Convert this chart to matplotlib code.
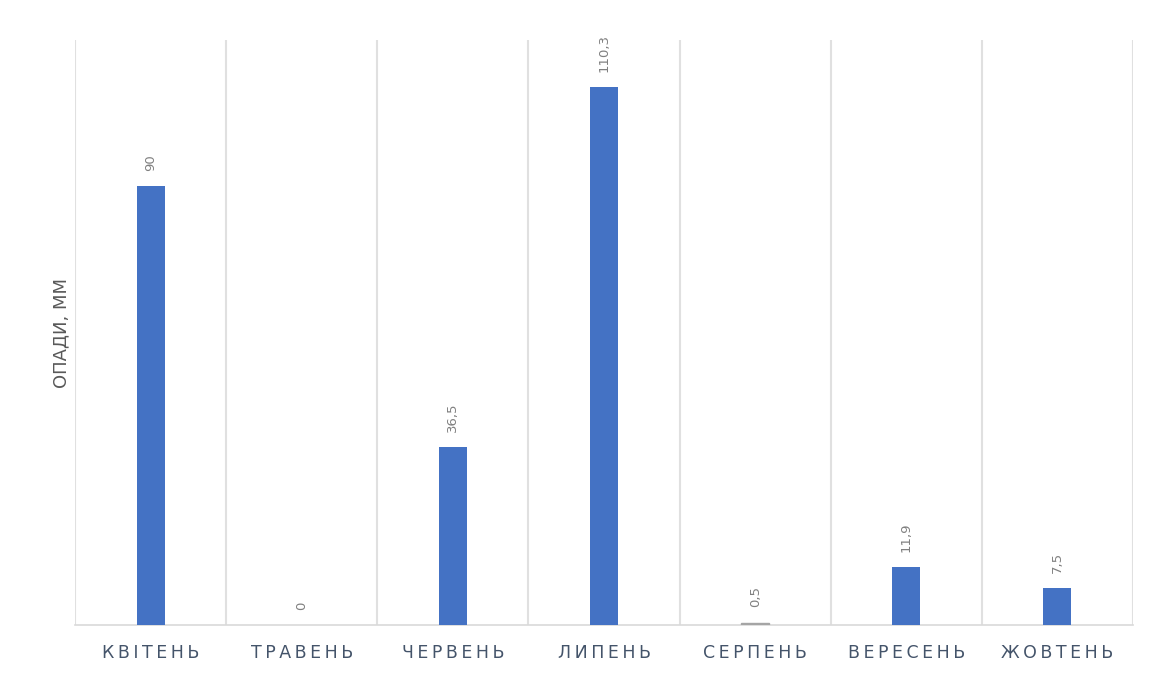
import matplotlib
matplotlib.use("Agg")
import matplotlib.pyplot as plt
import numpy as np

months = ["КВІТЕНЬ", "ТРАВЕНЬ", "ЧЕРВЕНЬ", "ЛИПЕНЬ", "СЕРПЕНЬ", "ВЕРЕСЕНЬ", "ЖОВТЕНЬ"]
precip = [90, 0, 36.5, 110.3, 0.5, 11.9, 7.5]
value_labels = ["90", "0", "36,5", "110,3", "0,5", "11,9", "7,5"]
y_label = "ОПАДИ, ММ"

fig = plt.figure(figsize=(11.56, 6.81), dpi=100)
ax = fig.add_axes([75/1156, 56/681, (1133-75)/1156, (625-40)/681])

x = np.arange(len(months))
bars = ax.bar(x, precip, width=0.185, color="#4472C4", zorder=3)
bars[4].set_color("#A5A5A5")

for xi, v, lab in zip(x, precip, value_labels):
    ax.annotate(lab, (xi, v), xytext=(0, 11), textcoords="offset points",
                rotation=90, ha="center", va="bottom", fontsize=9.5, color="#808080")

ax.set_xlim(-0.5, len(months) - 0.5)
ax.set_ylim(0, 120)
ax.set_xticks(x)
ax.set_xticklabels(["\u2009".join(m) for m in months], fontsize=12.5, color="#44546A")
ax.set_xticks(np.arange(-0.5, len(months)), minor=True)
ax.tick_params(axis="x", which="both", length=0, pad=14)
ax.set_yticks([])
ax.grid(axis="x", which="minor", color="#E0E0E0", linewidth=1.5, zorder=0)
ax.grid(axis="x", which="major", visible=False)
for s in ["top", "left", "right"]:
    ax.spines[s].set_visible(False)
ax.spines["bottom"].set_color("#D9D9D9")
ax.spines["bottom"].set_linewidth(1.2)
ax.set_ylabel(y_label, fontsize=13, color="#595959", labelpad=3)

fig.savefig("out.png", dpi=100)
